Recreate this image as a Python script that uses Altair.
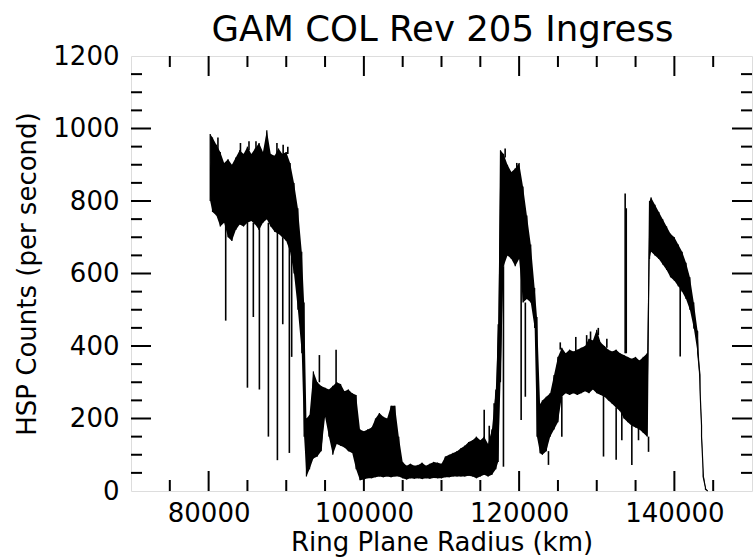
import altair as alt
import pandas as pd

TITLE = "GAM COL Rev 205 Ingress"

# Ring-plane radius bins (km) and the upper / lower envelope of the noisy count trace
R = [80200, 80500, 81000, 81500, 82000, 82500, 83000, 83500, 84000, 84500,
     85000, 85500, 86000, 86500, 87000, 87500, 88000, 88500, 89000, 89500,
     90000, 90500, 91000, 91500, 92000, 92300, 92600, 93000, 93500, 94000,
     94500, 95000, 95500, 96000, 96500, 97000, 97500, 98000, 98500, 99000,
     99500, 100000, 100500, 101000, 101500, 102000, 102500, 103000, 103500, 104000,
     104500, 105000, 105500, 106000, 106500, 107000, 107500, 108000, 108500, 109000,
     109500, 110000, 110500, 111000, 111500, 112000, 112500, 113000, 113500, 114000,
     114500, 115000, 115500, 116000, 116500, 117000, 117300, 117600, 118000, 118500,
     119000, 119500, 120000, 120500, 121000, 121500, 122000, 122300, 122700, 123000,
     123500, 124000, 124500, 125000, 125500, 126000, 126500, 127000, 127500, 128000,
     128500, 129000, 129500, 130000, 130500, 131000, 131500, 132000, 132500, 133000,
     133500, 134000, 134500, 135000, 135500, 136000, 136500, 136800, 137000, 137500,
     138000, 138500, 139000, 139500, 140000, 140500, 141000, 141500, 142000, 142500,
     143000, 143300, 143500, 143700, 144000, 144300]
HI = [985, 975, 955, 935, 905, 915, 900, 920, 940, 930,
      950, 930, 945, 960, 935, 995, 930, 925, 945, 930,
      935, 905, 850, 780, 660, 520, 200, 210, 330, 300,
      290, 285, 280, 290, 300, 295, 275, 280, 270, 265,
      170, 165, 170, 175, 200, 215, 205, 200, 235, 235,
      150, 80, 70, 75, 70, 72, 78, 70, 75, 80,
      78, 75, 95, 100, 105, 110, 118, 125, 135, 140,
      150, 140, 150, 130, 170, 280, 460, 940, 930, 900,
      880, 890, 905, 840, 760, 680, 560, 480, 240, 250,
      260, 270, 320, 370, 395, 380, 390, 385, 390, 395,
      400, 420, 415, 445, 410, 400, 390, 385, 390, 380,
      375, 370, 365, 370, 360, 370, 380, 800, 810, 790,
      770, 750, 730, 710, 700, 680, 660, 630, 590, 520,
      440, 320, 180, 60, 10, 0]
LO = [800, 770, 760, 730, 740, 700, 690, 720, 735, 730,
      740, 745, 735, 720, 740, 750, 730, 715, 710, 700,
      690, 660, 600, 500, 380, 150, 40, 60, 90, 95,
      110, 205, 150, 100, 130, 125, 120, 110, 105, 60,
      30, 32, 35, 35, 38, 40, 38, 40, 38, 40,
      40, 35, 32, 35, 34, 35, 33, 35, 34, 36,
      35, 35, 38, 38, 40, 40, 40, 40, 42, 40,
      35, 40, 45, 40, 45, 60, 80, 300, 620, 650,
      640, 620, 640, 520, 530, 520, 450, 150, 104, 100,
      110, 150, 170, 190, 260, 270, 265, 270, 265, 270,
      275, 270, 280, 270, 265, 260, 250, 240, 230, 220,
      200, 190, 180, 175, 170, 160, 150, 640, 660, 650,
      640, 625, 610, 590, 580, 565, 550, 530, 500, 450,
      380, 280, 150, 40, 5, 0]

# Isolated spikes: radius, value where the spike leaves the band, spike tip value
SPIKE_R = [82200, 85000, 85760, 86540, 87700, 88860, 89550, 90400, 90700,
           94270, 96420, 115500, 116150, 116780, 117980, 120260, 120800,
           123780, 125500, 130870, 132500, 133230, 133660, 133800, 134520,
           135380, 136670, 140750,
           81200, 84100, 85200, 86100, 88800, 89600, 90200,
           125300, 127300, 128700, 129200, 130200, 131300, 118200, 119700]
SPIKE_FROM = [740, 740, 740, 730, 740, 720, 700, 690, 660,
              300, 290, 140, 130, 170, 620, 640, 520,
              110, 260, 265, 230, 220, 380, 380, 180,
              175, 150, 560,
              930, 930, 940, 935, 930, 930, 930,
              390, 385, 400, 410, 430, 395, 920, 880]
SPIKE_TO = [470, 285, 480, 280, 150, 85, 460, 105, 370,
            375, 390, 224, 180, 242, 67, 196, 260,
            72, 150, 95, 86, 140, 821, 780, 72,
            140, 108, 371,
            975, 960, 965, 965, 960, 955, 950,
            410, 425, 430, 440, 450, 420, 945, 905]

X_MAJOR = [80000, 100000, 120000, 140000]
X_MINOR = [75000, 85000, 90000, 95000, 105000, 110000, 115000,
           125000, 130000, 135000, 145000]
Y_LABELS = [0, 200, 400, 600, 800, 1000, 1200]
Y_MAJOR = [200, 400, 600, 800, 1000]
Y_MINOR = [50, 100, 150, 250, 300, 350, 450, 500, 550, 650, 700, 750,
           850, 900, 950, 1050, 1100, 1150]

W, H = 621, 435
FONT = "DejaVu Sans"

xs = alt.Scale(domain=[70000, 150000], nice=False, zero=False)
ys = alt.Scale(domain=[0, 1200], nice=False, zero=False)

xaxis = alt.Axis(values=X_MAJOR, format="d", ticks=False, domain=False, grid=False,
                 labelFontSize=26, labelFont=FONT, labelColor="black", labelPadding=9,
                 title="Ring Plane Radius (km)", titleFont=FONT, titleFontSize=26,
                 titleFontWeight="normal", titleColor="black",
                 titleBaseline="alphabetic", titleY=59)
yaxis = alt.Axis(values=Y_LABELS, format="d", ticks=False, domain=False, grid=False,
                 labelFontSize=26, labelFont=FONT, labelColor="black", labelPadding=12,
                 title="HSP Counts (per second)", titleFont=FONT, titleFontSize=26,
                 titleFontWeight="normal", titleColor="black",
                 titleAngle=270, titleBaseline="middle", titleAlign="center",
                 titleX=-104, titleY=H / 2)

band = pd.DataFrame({"r": R, "hi": HI, "lo": LO})
trace = pd.DataFrame({
    "r": [v for v in R for _ in (0, 1)],
    "c": [c for pair in zip(HI, LO) for c in pair],
    "o": list(range(2 * len(R))),
})
spikes = pd.DataFrame({"r": SPIKE_R, "a": SPIKE_FROM, "b": SPIKE_TO})

area = alt.Chart(band).mark_area(color="black", interpolate="linear").encode(
    x=alt.X("r:Q", scale=xs, axis=xaxis),
    y=alt.Y("hi:Q", scale=ys, axis=yaxis),
    y2="lo:Q",
)
line = alt.Chart(trace).mark_line(color="black", strokeWidth=1.2).encode(
    x=alt.X("r:Q", scale=xs, axis=xaxis),
    y=alt.Y("c:Q", scale=ys, axis=yaxis),
    order="o:Q",
)
spk = alt.Chart(spikes).mark_rule(color="black", strokeWidth=1.6).encode(
    x=alt.X("r:Q", scale=xs, axis=xaxis),
    y=alt.Y("a:Q", scale=ys, axis=yaxis),
    y2="b:Q",
)
title = alt.Chart(pd.DataFrame({"t": [TITLE]})).mark_text(
    font=FONT, fontSize=35.5, color="black", align="center", baseline="alphabetic"
).encode(text="t:N", x=alt.value(W / 2 + 1), y=alt.value(-15))


def xticks(vals, length):
    d = pd.DataFrame({"r": vals})
    bottom = alt.Chart(d).mark_rule(color="black", strokeWidth=2).encode(
        x=alt.X("r:Q", scale=xs, axis=xaxis), y=alt.value(H), y2=alt.value(H - length))
    top = alt.Chart(d).mark_rule(color="black", strokeWidth=2).encode(
        x=alt.X("r:Q", scale=xs, axis=xaxis), y=alt.value(0), y2=alt.value(length))
    return [bottom, top]


def yticks(vals, length):
    d = pd.DataFrame({"hi": vals})
    left = alt.Chart(d).mark_rule(color="black", strokeWidth=2).encode(
        y=alt.Y("hi:Q", scale=ys, axis=yaxis), x=alt.value(0), x2=alt.value(length))
    right = alt.Chart(d).mark_rule(color="black", strokeWidth=2).encode(
        y=alt.Y("hi:Q", scale=ys, axis=yaxis), x=alt.value(W), x2=alt.value(W - length))
    return [left, right]


layers = [area, line, spk] + xticks(X_MAJOR, 20) + xticks(X_MINOR, 11) \
    + yticks(Y_MAJOR, 20) + yticks(Y_MINOR, 11) + [title]

chart = alt.layer(*layers).properties(
    width=W, height=H,
    autosize=alt.AutoSizeParams(type="none"),
    padding={"left": 131, "top": 56, "right": 3, "bottom": 66},
).configure_view(stroke="black", strokeWidth=2).configure(background="white")

chart.save("out.html", embed_options={"renderer": "svg", "actions": False})
